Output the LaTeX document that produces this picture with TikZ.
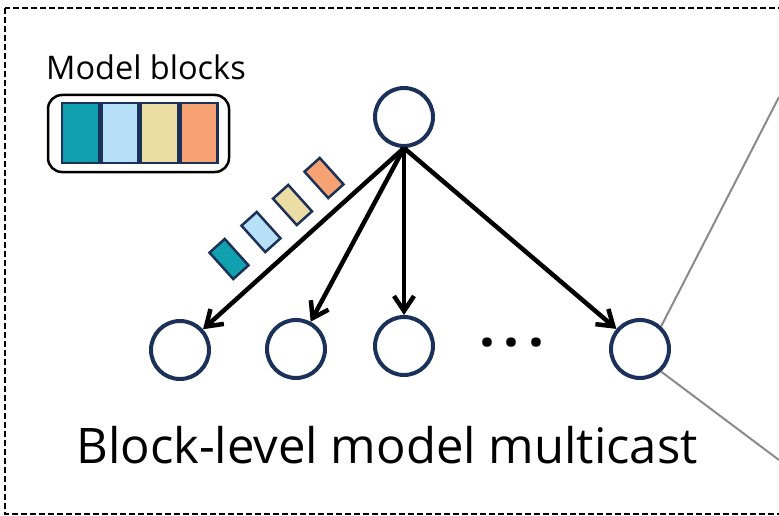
\documentclass[tikz,border=0pt]{standalone}
\usepackage{fontspec}
\setmainfont{Open Sans}
\usetikzlibrary{arrows.meta}
\definecolor{navy}{HTML}{1B3159}
\definecolor{blkteal}{HTML}{11A0AE}
\definecolor{blkblue}{HTML}{B6E0F8}
\definecolor{blkbeige}{HTML}{ECDDA4}
\definecolor{blkorange}{HTML}{F6A272}
\definecolor{linkgray}{HTML}{8A8A8A}
\begin{document}
\begin{tikzpicture}[x=1pt,y=-1pt,
  peer/.style={circle,draw=navy,line width=4pt,minimum size=58pt,inner sep=0pt,fill=white},
  arr/.style={line width=4.5pt,-{Straight Barb[length=15pt,width=20pt,line width=4.5pt]}},
  blk/.style={draw=navy,line width=2.5pt,minimum width=37pt,minimum height=60pt,inner sep=0pt},
  tblk/.style={draw=navy,line width=2.5pt,minimum width=20.5pt,minimum height=35.5pt,inner sep=0pt,rotate=42},
  container/.style={draw=black,line width=2.5pt,rounded corners=14pt,minimum width=181pt,minimum height=77pt,inner sep=0pt},
  frame/.style={draw=black,line width=1.6pt,dash pattern=on 6pt off 3pt},
  link/.style={draw=linkgray,line width=2pt}]
\useasboundingbox (0,0) rectangle (779,516);
\begin{scope}
\clip (0,0) rectangle (779,516);
\draw[frame] (5,8) rectangle (820,514);
\end{scope}
% model blocks legend
\node[anchor=base west,inner sep=0pt,font=\fontsize{32.5}{34}\selectfont] (lbl) at (46,80) {Model blocks};
\node[container] (mb) at (138.5,133.5) {};
\node[blk,fill=blkteal] (b1) at (80.5,133) {};
\node[blk,fill=blkblue] (b2) at (120,133) {};
\node[blk,fill=blkbeige] (b3) at (159.5,133) {};
\node[blk,fill=blkorange] (b4) at (199,133) {};
% tilted blocks
\node[tblk,fill=blkteal] (t1) at (229,259) {};
\node[tblk,fill=blkblue] (t2) at (261,232) {};
\node[tblk,fill=blkbeige] (t3) at (292.5,205) {};
\node[tblk,fill=blkorange] (t4) at (324,178) {};
% peers
\node[peer] (top) at (404,117) {};
\node[peer] (c1) at (180,350) {};
\node[peer] (c2) at (296,349) {};
\node[peer] (c3) at (404,346) {};
\node[peer] (c4) at (640,349) {};
\node[font=\fontsize{56}{56}\bfseries\selectfont,inner sep=0pt] (dots) at (512,343) {.\kern 9pt.\kern 9pt.};
% arrows
\draw[arr] (top.south) -- (c1);
\draw[arr] (top.south) -- (c2);
\draw[arr] (top.south) -- (c3);
\draw[arr] (top.south) -- (c4);
% gray links
\coordinate (g1) at (779,97);
\coordinate (g2) at (779,460);
\draw[link] (c4.47) -- (g1);
\draw[link] (c4.-47) -- (g2);
% caption
\node[anchor=base,inner sep=0pt,font=\fontsize{49}{51}\selectfont] (cap) at (387,463) {Block-level model multicast};
\end{tikzpicture}
\end{document}
